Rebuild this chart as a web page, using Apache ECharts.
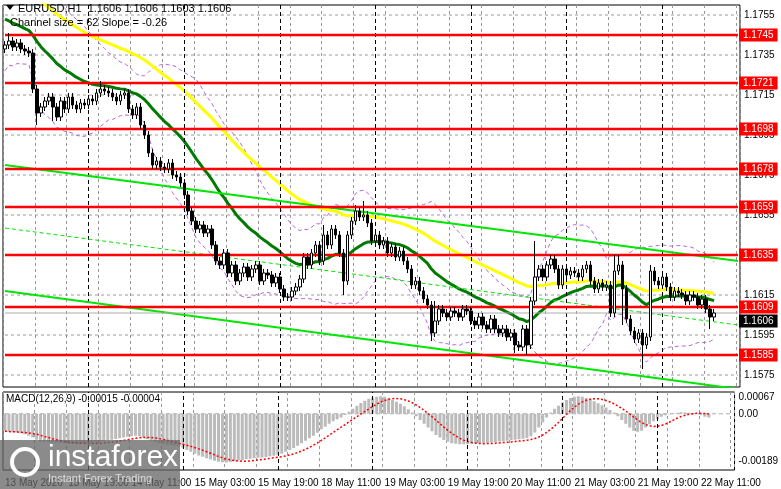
<!DOCTYPE html>
<html><head><meta charset="utf-8">
<script src="https://cdn.jsdelivr.net/npm/echarts@6/dist/echarts.min.js"></script>
<style>html,body{margin:0;padding:0;background:#fff}#c{width:781px;height:489px}</style>
</head><body><div id="c"></div>
<script>
// ---- data ----
const closes = [
1.1740,1.1742,1.1739,1.1741,1.1738,1.1737,1.1736,1.1718,1.1706,1.1709,
1.1712,1.1714,1.1709,1.1704,1.1712,1.1708,1.1714,1.1710,1.1708,1.1711,1.1710,1.1713,1.1712,
1.1716,1.1718,1.1717,1.1716,1.1714,1.1712,1.1715,1.1716,
1.1708,1.1705,1.1709,
1.1700,1.1695,1.1686,1.1680,
1.1682,1.1679,1.1678,1.1681,1.1675,1.1674,1.1671,
1.1665,1.1657,1.1652,1.1648,
1.1650,1.1646,1.1648,
1.1640,1.1632,1.1630,1.1636,
1.1626,1.1630,1.1622,1.1626,1.1629,1.1624,1.1628,
1.1630,1.1622,1.1626,1.1625,1.1621,1.1624,1.1618,1.1614,
1.1614,1.1617,1.1619,1.1623,
1.1634,1.1630,1.1636,1.1640,1.1632,1.1645,
1.1640,1.1648,1.1645,1.1636,1.1622,
1.1645,1.1652,1.1657,1.1654,1.1655,
1.1651,1.1642,1.1645,1.1640,1.1642,
1.1636,1.1639,1.1634,1.1637,1.1632,
1.1628,1.1620,1.1622,1.1617,1.1613,
1.1610,1.1596,1.1602,1.1608,1.1606,
1.1604,1.1607,1.1606,1.1604,1.1608,1.1607,1.1602,1.1600,
1.1604,1.1600,1.1598,1.1603,1.1598,1.1596,
1.1598,1.1594,1.1596,1.1590,1.1589,1.1598,
1.1590,1.1612,1.1624,
1.1628,1.1624,1.1630,1.1633,1.1628,1.1620,1.1628,
1.1625,1.1627,1.1626,1.1624,1.1628,1.1630,1.1622,1.1618,
1.1621,1.1619,1.1620,1.1606,
1.1627,1.1630,1.1618,
1.1603,1.1597,1.1593,1.1596,1.1590,1.1594,
1.1627,1.1622,1.1620,
1.1624,1.1619,1.1614,1.1617,1.1616,1.1615,
1.1612,1.1615,1.1614,1.1610,1.1613,1.1608,1.1604,1.1606];
const firstOpen = 1.1738;
const spikeHigh = {1:1.1746,7:1.1737,24:1.1722,88:1.1660,90:1.1662,80:1.1650,133:1.1642,137:1.1634,153:1.1635,154:1.1635,162:1.1630,108:1.1612};
const spikeLow = {8:1.1700,12:1.1702,85:1.1615,107:1.1592,131:1.1585,155:1.1600,160:1.1578,161:1.1588,177:1.1598,128:1.1586};
// MACD main histogram, units of 0.00001
const macdHist = [
-70,-72,-74,-75,-78,-82,-88,
-95,-104,-110,-112,-113,-114,-115,-116,
-118,-120,-121,-121,-120,-119,-118,-117,-115,-112,
-110,-107,-104,-101,-98,-95,-92,
-90,-88,-90,-95,-102,
-108,-113,-117,-120,-123,-125,-127,-130,
-136,-145,-152,-160,-167,-172,-178,-183,-188,-192,
-194,-195,-193,-190,-187,-185,-182,-180,
-178,-176,-175,-173,-170,-168,-165,-160,
-152,-145,-137,-128,-118,-108,-98,-88,-76,
-62,-52,-40,-30,-22,-15,-5,
8,20,32,43,52,60,65,68,70,68,
62,55,48,40,30,18,5,
-10,-25,-40,-55,-70,-85,-95,-105,
-112,-118,-120,-122,-122,-121,-120,
-119,-118,-117,-116,-115,-113,-111,-110,-108,-106,
-104,-102,-100,-97,-90,-75,
-55,-35,-15,5,20,32,
45,55,63,68,70,68,63,57,
50,42,34,25,15,5,-10,-25,
-40,-55,-68,-72,-68,-55,
-42,-30,-20,-12,-6,-2,2,
4,6,5,4,2,0,-5,-12,-15];
const levels = [1.1745,1.1721,1.1698,1.1678,1.1659,1.1635,1.1609,1.1585];
const priceTicks = [1.1755,1.1735,1.1715,1.1695,1.1675,1.1655,1.1635,1.1615,1.1595,1.1575];
const macdTicks = [0.00067,0,-0.00189];
const lastPrice = 1.1606;
const channelUpper = [1.1680,1.1632];
const channelMid = [1.16485,1.1600];
const channelLower = [1.1617,1.1568];
const days = ['13 May','14 May','15 May','18 May','19 May','20 May','21 May','22 May'];
const startHour = 3, totalSlots = 185;

// ---- build ----
const cats=[], dayStarts=[];
let d=0,h=startHour;
for(let i=0;i<179;i++){
  if(h===0) dayStarts.push(i);
  cats.push(days[d]+' '+String(h).padStart(2,'0')+':00');
  h++; if(h===24){h=0;d++;}
}
while(cats.length<totalSlots) cats.push('');
const ohlc=[]; let prev=firstOpen;
closes.forEach((c,i)=>{
  const o=prev; let hi=Math.max(o,c)+0.0002, lo=Math.min(o,c)-0.0002;
  if(spikeHigh[i]) hi=Math.max(hi,spikeHigh[i]);
  if(spikeLow[i]) lo=Math.min(lo,spikeLow[i]);
  ohlc.push([o,c,lo,hi]); prev=c;
});
function ema(arr,p,seed){let e=seed;return arr.map(v=>{e=e+(v-e)*2/(p+1);return +e.toFixed(6);});}
const yellow=ema(closes,62,1.1774), green=ema(closes,24,1.1754);
const upper=[],lower=[];
closes.forEach((c,i)=>{const w=closes.slice(Math.max(0,i-19),i+1);const m=green[i];
 let s=Math.sqrt(w.reduce((a,v)=>a+(v-m)*(v-m),0)/w.length);s=Math.max(s,0.0005);
 upper.push(+(m+2*s).toFixed(6));lower.push(+(m-2*s).toFixed(6));});
const macd=macdHist.map(v=>v/100000);
const sig=macd.map((v,i)=>{const w=macd.slice(Math.max(0,i-8),i+1);return +(w.reduce((a,b)=>a+b,0)/w.length).toFixed(6);});

const font='"Liberation Sans", Arial, sans-serif';
const last=totalSlots-1;
const flat=v=>cats.map(()=>v);
const ends=a=>cats.map((_,i)=>i===0?a[0]:(i===last?a[1]:null));
const hline=(v,color,width,type,z,label,bg,xi,off)=>({type:'line',data:flat(v),xAxisIndex:xi||0,yAxisIndex:xi||0,symbol:'none',silent:true,z:z,
  lineStyle:{color,width,type},
  endLabel:label?{show:true,formatter:label,backgroundColor:bg,color:'#fff',fontSize:10,padding:[2,4,1,4],distance:1,offset:off||[0,0]}:{show:false}});
const chanSeries=(a,width,type)=>({type:'line',data:ends(a),connectNulls:true,symbol:'none',silent:true,z:5,lineStyle:{color:'#00e600',width,type}});
const chart=echarts.init(document.getElementById('c'));
chart.setOption({
 animation:false,
 textStyle:{fontFamily:font},
 grid:[{left:3,right:41,top:5,height:382,show:true,borderColor:'#000',borderWidth:1},
       {left:3,right:41,top:392,height:78,show:true,borderColor:'#000',borderWidth:1}],
 xAxis:[
  {type:'category',data:cats,gridIndex:0,boundaryGap:true,axisLabel:{show:false},axisTick:{show:false},axisLine:{show:false},
   splitLine:{show:true,interval:7,lineStyle:{color:'#999',type:[3,3]}}},
  {type:'category',data:cats,gridIndex:1,boundaryGap:true,axisTick:{show:false},axisLine:{show:false},
   splitLine:{show:true,interval:7,lineStyle:{color:'#999',type:[3,3]}},
   axisLabel:{interval:15,align:'left',color:'#000',fontSize:10,margin:8,
     formatter:(v,i)=>i===0?'13 May 2026':v}}
 ],
 yAxis:[
  {type:'value',gridIndex:0,position:'right',min:1.1569,max:1.1760,interval:0.0001,
   axisLine:{show:false},axisTick:{show:false},splitLine:{show:false},
   axisLabel:{color:'#000',fontSize:10,margin:4,
     formatter:v=>priceTicks.some(t=>Math.abs(t-v)<0.00002)?v.toFixed(4):''}},
  {type:'value',gridIndex:1,position:'right',min:-0.00225,max:0.00087,interval:0.00001,
   axisLine:{show:false},axisTick:{show:false},splitLine:{show:false},
   axisLabel:{color:'#000',fontSize:10,margin:4,
     formatter:v=>{const t=macdTicks.find(t=>Math.abs(t-v)<0.000004);return t===undefined?'':t.toFixed(t===0?2:5);}}}
 ],
 series:[
  ...priceTicks.map(t=>hline(t,'#999',1,[3,3],1)),
  {type:'line',data:[],markLine:{silent:true,symbol:'none',label:{show:false},
    lineStyle:{color:'#000',type:[4,3],width:1},data:dayStarts.map(i=>({xAxis:i}))}},
  {type:'line',data:upper,symbol:'none',lineStyle:{color:'#b366e0',width:1,type:[4,3]},z:3},
  {type:'line',data:lower,symbol:'none',lineStyle:{color:'#b366e0',width:1,type:[4,3]},z:3},
  {type:'line',data:yellow,symbol:'none',lineStyle:{color:'#ffff00',width:3},z:4},
  {type:'line',data:green,symbol:'none',lineStyle:{color:'#007a00',width:3},z:4},
  chanSeries(channelUpper,2,'solid'),
  chanSeries(channelMid,1,[4,3]),
  chanSeries(channelLower,2,'solid'),
  ...levels.map(l=>hline(l,'#ff0000',2.5,'solid',6,l.toFixed(4),'#ff0000')),
  hline(lastPrice,'#aaa',1,'solid',6,lastPrice.toFixed(4),'#000',0,[0,8]),
  {type:'candlestick',data:ohlc,barWidth:3,z:7,
   itemStyle:{color:'#fff',color0:'#000',borderColor:'#000',borderColor0:'#000',borderWidth:1}},
  hline(0,'#aaa',1,[4,3],1,null,null,1),
  {type:'bar',xAxisIndex:1,yAxisIndex:1,data:macd,barWidth:3,itemStyle:{color:'#bbb'},
   markLine:{silent:true,symbol:'none',label:{show:false},
     lineStyle:{color:'#000',type:[4,3],width:1},data:dayStarts.map(i=>({xAxis:i}))}},
  {type:'line',xAxisIndex:1,yAxisIndex:1,data:sig,symbol:'none',lineStyle:{color:'#ff0000',width:1.5,type:[2,2]},z:4}
 ],
 graphic:[
  {type:'polygon',z:100,shape:{points:[[6,5],[14,5],[10,10]]},style:{fill:'#000'}},
  {type:'text',z:100,left:18,top:3,style:{text:'EURUSD,H1  1.1606 1.1606 1.1603 1.1606',fill:'#000',font:'11px '+font}},
  {type:'text',z:100,left:10,top:17,style:{text:'Channel size = 62 Slope = -0.26',fill:'#000',font:'11px '+font}},
  {type:'text',z:100,left:6,top:394,style:{text:'MACD(12,26,9) -0.00015 -0.00004',fill:'#000',font:'10px '+font}},
  {type:'rect',left:0,top:440,shape:{width:180,height:49},style:{fill:'rgba(100,100,100,0.75)'},z:100},
  {type:'text',left:48,top:443,style:{text:'instaforex',fill:'#fff',font:'30px '+font},z:101},
  {type:'text',left:48,top:473,style:{text:'Instant Forex Trading',fill:'#ddd',font:'11px '+font},z:101},
  {type:'circle',shape:{cx:25,cy:462,r:13},style:{fill:'none',stroke:'#fff',lineWidth:4},z:101}
 ]
});
</script></body></html>
